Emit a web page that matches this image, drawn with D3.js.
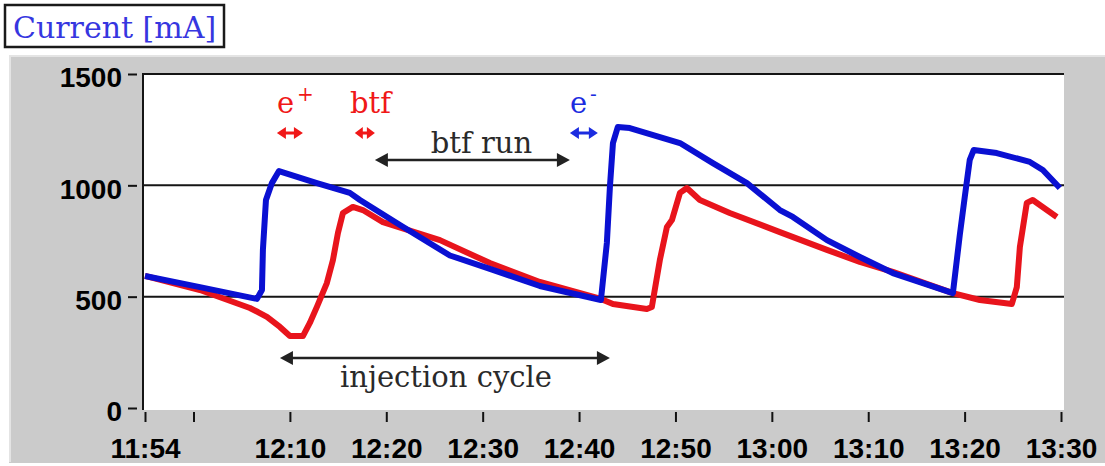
<!DOCTYPE html>
<html>
<head>
<meta charset="utf-8">
<script src="https://cdn.jsdelivr.net/npm/d3@7"></script>
<style>
  html, body { margin: 0; padding: 0; background: #fff; }
  svg { display: block; }
</style>
</head>
<body>
<svg id="chart" width="1105" height="466"></svg>
<script>
// Beam current of the electron (e-) and positron (e+) rings
const electronTimes = [
  "11:54:58", "12:00:40", "12:06:35", "12:07:06", "12:07:12", "12:07:31", "12:08:08", "12:08:52",
  "12:12:48", "12:16:13", "12:17:16", "12:21:25", "12:26:36", "12:30:45", "12:35:56", "12:42:16",
  "12:42:53", "12:43:12", "12:43:31", "12:44:01", "12:45:16", "12:50:28", "12:53:53", "12:57:25",
  "13:00:50", "13:02:11", "13:05:43", "13:09:08", "13:12:33", "13:18:47", "13:19:30", "13:20:01",
  "13:20:32", "13:20:57", "13:23:20", "13:26:46", "13:28:07", "13:29:53"
];
const electronCurrent = [
  593, 543, 490, 530, 710, 934, 1010, 1064,
  1010, 966, 934, 822, 685, 625, 548, 485,
  741, 993, 1190, 1262, 1257, 1190, 1100, 1010,
  889, 858, 754, 678, 606, 516, 777, 948,
  1114, 1159, 1145, 1105, 1069, 988
];
const positronTimes = [
  "11:54:58", "12:00:40", "12:05:51", "12:06:41", "12:07:37", "12:08:58", "12:10:00", "12:11:21",
  "12:12:04", "12:12:48", "12:13:50", "12:14:28", "12:14:59", "12:15:30", "12:16:32", "12:17:34",
  "12:19:39", "12:25:34", "12:30:45", "12:35:56", "12:42:16", "12:43:31", "12:47:02", "12:47:33",
  "12:48:23", "12:49:07", "12:49:38", "12:50:28", "12:51:11", "12:52:32", "12:55:38", "13:00:50",
  "13:05:43", "13:09:08", "13:12:33", "13:18:47", "13:21:35", "13:24:54", "13:25:25", "13:25:44",
  "13:26:27", "13:27:04", "13:29:34"
];
const positronCurrent = [
  593, 530, 449, 431, 409, 364, 323, 323,
  382, 454, 561, 665, 786, 876, 903, 889,
  835, 754, 651, 566, 490, 467, 445, 454,
  665, 813, 844, 966, 988, 934, 876, 790,
  710, 656, 611, 516, 485, 467, 543, 723,
  921, 934, 858
];

const yTickValues = [0, 500, 1000, 1500];
const yGridValues = [500, 1000, 1500];
const xTickTimes = ["11:54:58", "12:00:00", "12:10:00", "12:20:00", "12:30:00", "12:40:00",
                    "12:50:00", "13:00:00", "13:10:00", "13:20:00", "13:30:00"];
const xTickLabels = ["11:54", "", "12:10", "12:20", "12:30", "12:40",
                     "12:50", "13:00", "13:10", "13:20", "13:30"];

// Annotated intervals: [start, end, level in mA]
const spanPositron = ["12:08:39", "12:11:21", 1235];
const spanBtf = ["12:16:44", "12:18:49", 1235];
const spanElectron = ["12:39:03", "12:41:57", 1235];
const spanBtfRun = ["12:18:49", "12:39:03", 1114];
const spanInjection = ["12:08:58", "12:43:12", 225];

const parseTime = d3.timeParse("%H:%M:%S");
const svg = d3.select("#chart");

const x = d3.scaleTime()
  .domain([parseTime("11:54:58"), parseTime("13:30:00")])
  .range([145, 1061]);
const y = d3.scaleLinear().domain([0, 1500]).range([408, 74]);

const plotLeft = 143, plotRight = 1064, plotTop = y(1500), plotBottom = 410;

// grey panel behind the plot
svg.append("rect").attr("x", 9).attr("y", 55).attr("width", 1096).attr("height", 408)
  .attr("fill", "#cbcbcb");
svg.append("path").attr("d", "M10,462V56H1105").attr("fill", "none")
  .attr("stroke", "#e4e4e4").attr("stroke-width", 2);

// white plotting area
svg.append("rect").attr("x", plotLeft).attr("y", plotTop)
  .attr("width", plotRight - plotLeft).attr("height", plotBottom - plotTop)
  .attr("fill", "#fff");

// horizontal grid lines
svg.append("g").selectAll("line").data(yGridValues).join("line")
  .attr("x1", plotLeft).attr("x2", plotRight)
  .attr("y1", d => y(d)).attr("y2", d => y(d))
  .attr("stroke", "#151515").attr("stroke-width", 2);
svg.append("line").attr("x1", plotLeft).attr("x2", plotLeft)
  .attr("y1", plotTop - 1).attr("y2", plotBottom)
  .attr("stroke", "#151515").attr("stroke-width", 2);

// y axis
const yAxis = svg.append("g").attr("transform", "translate(137,0)")
  .call(d3.axisLeft(y).tickValues(yTickValues).tickSize(9).tickPadding(6).tickFormat(d3.format("d")));
yAxis.select(".domain").remove();
yAxis.selectAll(".tick line").attr("stroke", "#111").attr("stroke-width", 2);
yAxis.selectAll(".tick text")
  .attr("dy", "0.46em")
  .attr("fill", "#000")
  .style("font-family", "'Liberation Sans', Arial, sans-serif")
  .style("font-weight", "bold")
  .style("font-size", "28px");

// x axis
const xAxis = svg.append("g").attr("transform", `translate(0,${plotBottom + 2})`)
  .call(d3.axisBottom(x)
    .tickValues(xTickTimes.map(parseTime))
    .tickSize(10).tickPadding(16)
    .tickFormat((d, i) => xTickLabels[i]));
xAxis.select(".domain").remove();
xAxis.selectAll(".tick line").attr("stroke", "#111").attr("stroke-width", 2);
xAxis.selectAll(".tick text")
  .attr("fill", "#000")
  .style("font-family", "'Liberation Sans', Arial, sans-serif")
  .style("font-weight", "bold")
  .style("font-size", "28px");

// current traces
const toPoints = (times, vals) => times.map((t, i) => ({ t: parseTime(t), v: vals[i] }));
const line = d3.line().x(d => x(d.t)).y(d => y(d.v));

svg.append("path").datum(toPoints(positronTimes, positronCurrent))
  .attr("d", line).attr("fill", "none")
  .attr("stroke", "#e8141c").attr("stroke-width", 6)
  .attr("stroke-linejoin", "round");
svg.append("path").datum(toPoints(electronTimes, electronCurrent))
  .attr("d", line).attr("fill", "none")
  .attr("stroke", "#0a10d2").attr("stroke-width", 6)
  .attr("stroke-linejoin", "round");

// double-headed arrow
function doubleArrow(span, color, headLen, headHalf, width) {
  const x1 = x(parseTime(span[0])), x2 = x(parseTime(span[1])), yy = y(span[2]);
  const g = svg.append("g");
  g.append("line").attr("x1", x1 + headLen * 0.6).attr("x2", x2 - headLen * 0.6)
    .attr("y1", yy).attr("y2", yy).attr("stroke", color).attr("stroke-width", width);
  g.append("path")
    .attr("d", `M${x1},${yy}L${x1 + headLen},${yy - headHalf}L${x1 + headLen},${yy + headHalf}Z` +
               `M${x2},${yy}L${x2 - headLen},${yy - headHalf}L${x2 - headLen},${yy + headHalf}Z`)
    .attr("fill", color);
}

doubleArrow(spanPositron, "#f01818", 9, 6, 3);
doubleArrow(spanBtf, "#f01818", 8, 6, 3);
doubleArrow(spanElectron, "#1c2ce0", 9, 6, 3);
doubleArrow(spanBtfRun, "#222", 13, 7, 2.5);
doubleArrow(spanInjection, "#222", 13, 7, 2.5);

const serif = "'DejaVu Serif', serif";

// e+ label
const ePlus = svg.append("text").attr("x", x(parseTime(spanPositron[0]))).attr("y", y(1325))
  .attr("fill", "#f01818").style("font-family", serif).style("font-size", "29px");
ePlus.append("tspan").text("e");
ePlus.append("tspan").attr("dx", 3).attr("dy", -12).style("font-size", "20px").text("+");

// btf label
svg.append("text").attr("x", x(parseTime("12:16:14"))).attr("y", y(1325))
  .attr("fill", "#f01818").style("font-family", serif).style("font-size", "29px").text("btf");

// e- label
const eMinus = svg.append("text").attr("x", x(parseTime(spanElectron[0]))).attr("y", y(1325))
  .attr("fill", "#1c2ce0").style("font-family", serif).style("font-size", "29px");
eMinus.append("tspan").text("e");
eMinus.append("tspan").attr("dx", 3).attr("dy", -12).style("font-size", "20px").text("-");

// interval captions
svg.append("text").attr("x", x(parseTime("12:24:37"))).attr("y", y(1145))
  .attr("fill", "#2a2a2a").style("font-family", serif).style("font-size", "29px").text("btf run");
svg.append("text").attr("x", x(parseTime("12:15:12"))).attr("y", y(95))
  .attr("fill", "#2a2a2a").style("font-family", serif).style("font-size", "29px").text("injection cycle");

// title box
svg.append("rect").attr("x", 5).attr("y", 5).attr("width", 219).attr("height", 42)
  .attr("fill", "#fff").attr("stroke", "#1a1a1a").attr("stroke-width", 2.5);
svg.append("text").attr("x", 13).attr("y", 38)
  .attr("fill", "#3636e0").style("font-family", serif).style("font-size", "30px")
  .text("Current [mA]");
</script>
</body>
</html>
